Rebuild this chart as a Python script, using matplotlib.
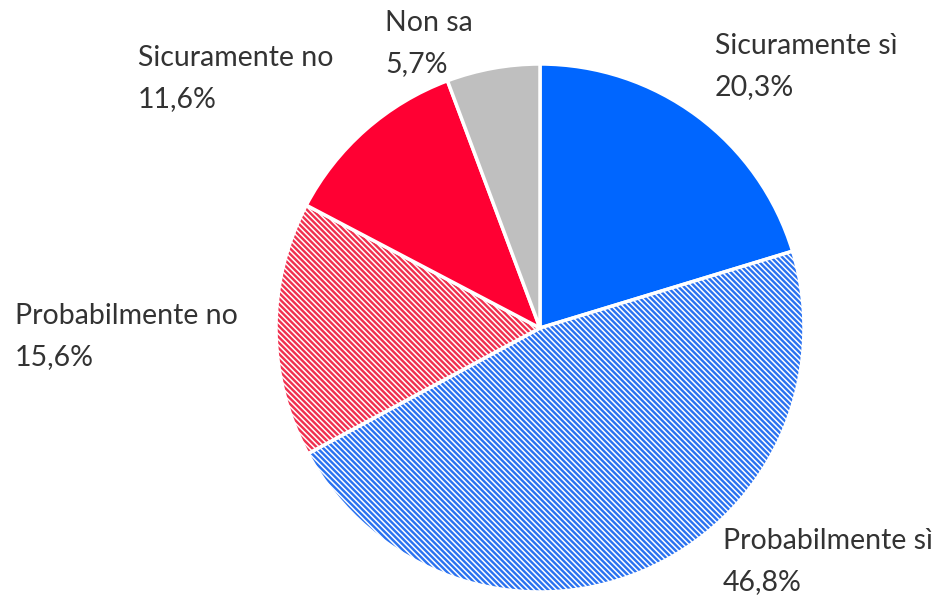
import matplotlib
matplotlib.use("Agg")
import matplotlib.pyplot as plt

categories = ["Sicuramente sì", "Probabilmente sì", "Probabilmente no", "Sicuramente no", "Non sa"]
values = [20.3, 46.8, 15.6, 11.6, 5.7]
value_labels = ["20,3%", "46,8%", "15,6%", "11,6%", "5,7%"]

colors = ["#0066FF", "#2A72F0", "#F0304F", "#FF0033", "#BFBFBF"]
hatches = [None, "\\" * 6, "\\" * 6, None, None]

plt.rcParams["hatch.linewidth"] = 1.1
plt.rcParams["font.family"] = ["Lato", "DejaVu Sans"]

W, H = 946, 597
fig = plt.figure(figsize=(W / 100, H / 100), dpi=100)
ax = fig.add_axes([0, 0, 1, 1])

wedges, _ = ax.pie(values, startangle=90, counterclock=False,
                   center=(540, H - 328), radius=264, colors=colors,
                   wedgeprops=dict(edgecolor="white", linewidth=2.5))
for w, h in zip(wedges, hatches):
    if h:
        w.set_hatch(h)

ax.set_xlim(0, W)
ax.set_ylim(0, H)
ax.set_aspect("equal")
ax.axis("off")

label_pos = [(715, 33), (723, 528), (15, 303), (138, 45), (385, 10)]
for cat, vl, (x, y) in zip(categories, value_labels, label_pos):
    ax.text(x, H - y, f"{cat}\n{vl}", ha="left", va="top", fontsize=20.5,
            color="#333333", linespacing=1.7)

fig.savefig("out.png", dpi=100)
